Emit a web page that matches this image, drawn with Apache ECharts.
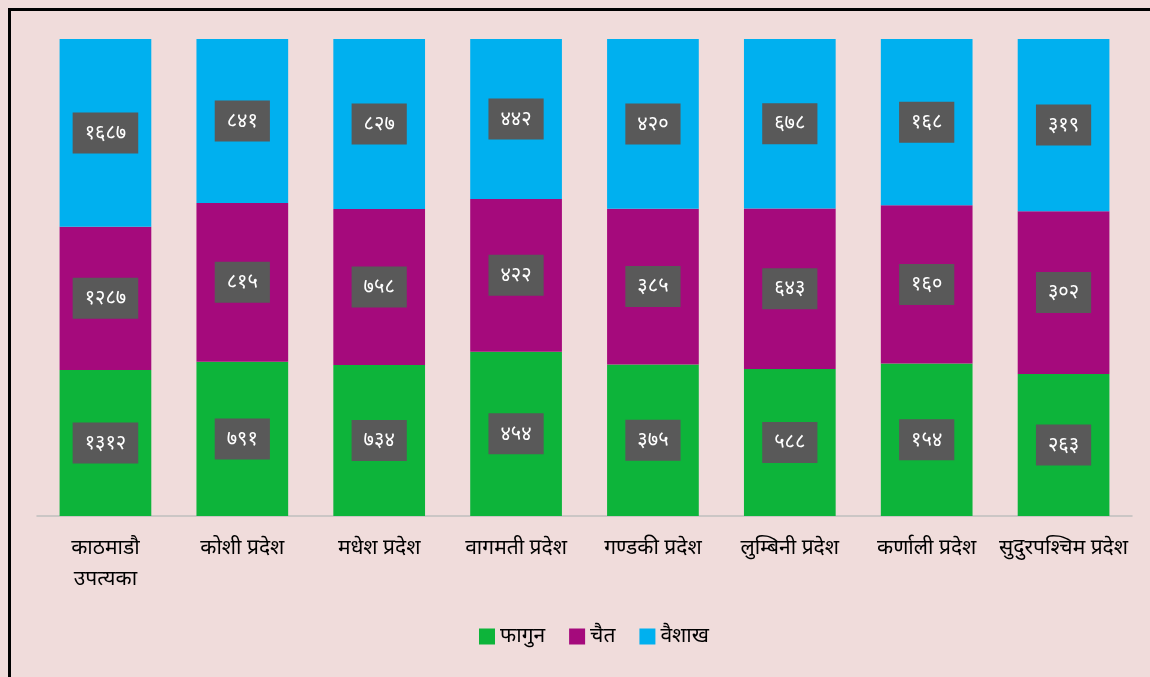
<!DOCTYPE html>
<html>
<head>
<meta charset="utf-8">
<script src="https://cdn.jsdelivr.net/npm/echarts@6/dist/echarts.min.js"></script>
<style>
  html, body { margin: 0; padding: 0; background: #f0dcdb; }
  #chart { width: 1150px; height: 677px; }
</style>
</head>
<body>
<div id="chart"></div>
<script>
// प्रदेशहरू
var categories = ['काठमाडौ\nउपत्यका', 'कोशी प्रदेश', 'मधेश प्रदेश', 'वागमती प्रदेश', 'गण्डकी प्रदेश', 'लुम्बिनी प्रदेश', 'कर्णाली प्रदेश', 'सुदुरपश्चिम प्रदेश'];
var seriesNames = ['फागुन', 'चैत', 'वैशाख'];
var fagun = [1312, 791, 734, 454, 375, 588, 154, 263];
var chait = [1287, 815, 758, 422, 385, 643, 160, 302];
var baishakh = [1687, 841, 827, 442, 420, 678, 168, 319];
var colors = ['#0db43a', '#a50a7c', '#00b0ef'];

var raw = [fagun, chait, baishakh];
var totals = categories.map(function (c, i) { return fagun[i] + chait[i] + baishakh[i]; });

// नेपाली अंकमा बदल्ने
var digits = ['०', '१', '२', '३', '४', '५', '६', '७', '८', '९'];
function toNepali(n) {
    return String(n).replace(/[0-9]/g, function (d) { return digits[+d]; });
}

var dom = document.getElementById('chart');
var myChart = echarts.init(dom);

var series = raw.map(function (arr, k) {
    return {
        name: seriesNames[k],
        type: 'bar',
        stack: 'total',
        barWidth: '67%',
        itemStyle: { color: colors[k] },
        data: arr.map(function (v, i) { return { value: v / totals[i] * 100, raw: v }; }),
        label: {
            show: true,
            position: 'inside',
            formatter: function (p) { return toNepali(p.data.raw); },
            color: '#ffffff',
            fontSize: 20,
            fontFamily: 'Noto Sans, sans-serif',
            backgroundColor: '#595959',
            padding: [11, 12, 10, 12]
        }
    };
});

var option = {
    backgroundColor: '#f0dcdb',
    animation: false,
    graphic: [{
        type: 'rect',
        shape: { x: 9.5, y: 9.5, width: 1200, height: 700 },
        style: { fill: 'none', stroke: '#000000', lineWidth: 3 },
        silent: true
    }],
    grid: { left: 37, right: 18, top: 39, bottom: 161 },
    legend: {
        bottom: 25,
        left: 474,
        itemWidth: 16,
        itemHeight: 16,
        itemGap: 24,
        icon: 'rect',
        textStyle: { color: '#000000', fontSize: 21, fontFamily: 'Noto Sans, sans-serif' },
        data: seriesNames
    },
    xAxis: {
        type: 'category',
        data: categories,
        axisLine: { lineStyle: { color: '#bfbfbf', width: 1.5 } },
        axisTick: { show: false },
        axisLabel: {
            color: '#000000',
            fontSize: 21,
            fontFamily: 'Noto Sans, sans-serif',
            margin: 17,
            lineHeight: 31,
            interval: 0
        }
    },
    yAxis: {
        type: 'value',
        min: 0,
        max: 100,
        show: false,
        splitLine: { show: false }
    },
    series: series
};

myChart.setOption(option, true);
</script>
</body>
</html>
